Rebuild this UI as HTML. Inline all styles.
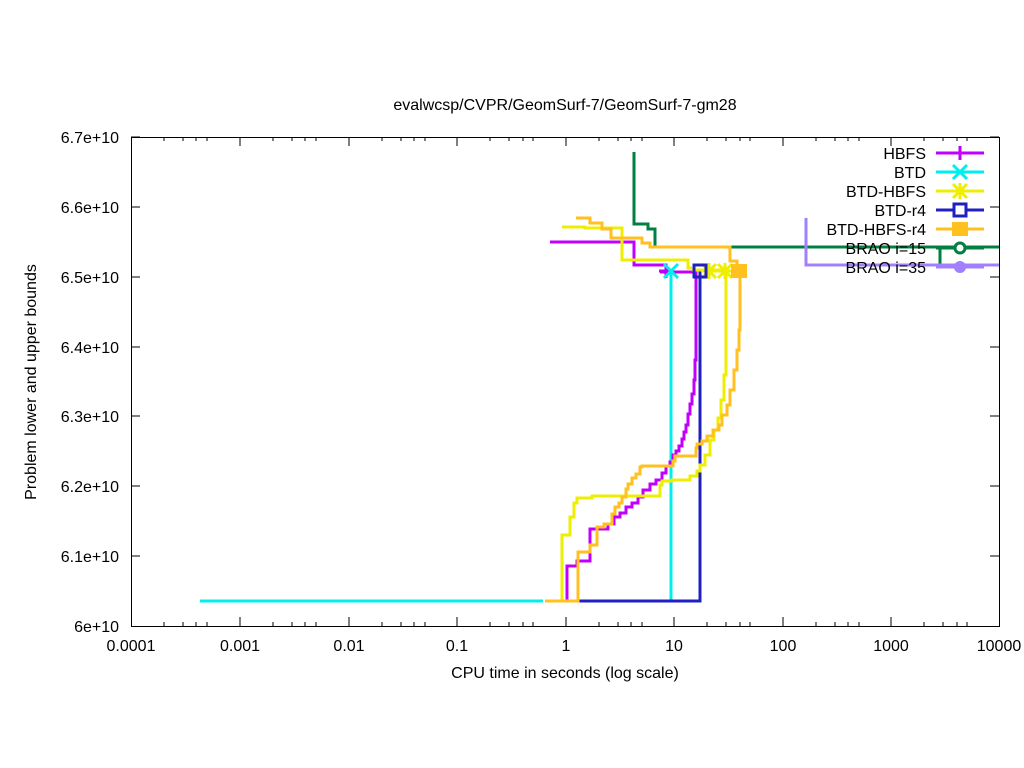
<!DOCTYPE html>
<html><head><style>body{margin:0;background:#fff}svg{display:block}text{font-family:"Liberation Sans",sans-serif;font-size:16px;fill:#000}</style></head><body>
<svg width="1024" height="768" xmlns="http://www.w3.org/2000/svg">
<rect width="1024" height="768" fill="#fff"/>
<g stroke="#000" stroke-width="1" fill="none">
<rect x="131.5" y="137.5" width="868" height="489"/>
<path d="M131 137h9M131 207h9M131 277h9M131 347h9M131 416h9M131 486h9M131 556h9M999 137h-9M999 207h-9M999 277h-9M999 347h-9M999 416h-9M999 486h-9M999 556h-9"/>
<path d="M240 626v-9M349 626v-9M457 626v-9M566 626v-9M674 626v-9M783 626v-9M891 626v-9M240 137v9M349 137v9M457 137v9M566 137v9M674 137v9M783 137v9M891 137v9"/>
<path d="M164 626v-4M183 626v-4M196 626v-4M207 626v-4M273 626v-4M292 626v-4M305 626v-4M316 626v-4M382 626v-4M401 626v-4M414 626v-4M425 626v-4M490 626v-4M509 626v-4M523 626v-4M533 626v-4M599 626v-4M618 626v-4M631 626v-4M642 626v-4M707 626v-4M726 626v-4M740 626v-4M750 626v-4M816 626v-4M835 626v-4M848 626v-4M859 626v-4M924 626v-4M943 626v-4M957 626v-4M967 626v-4M164 137v4M183 137v4M196 137v4M207 137v4M273 137v4M292 137v4M305 137v4M316 137v4M382 137v4M401 137v4M414 137v4M425 137v4M490 137v4M509 137v4M523 137v4M533 137v4M599 137v4M618 137v4M631 137v4M642 137v4M707 137v4M726 137v4M740 137v4M750 137v4M816 137v4M835 137v4M848 137v4M859 137v4M924 137v4M943 137v4M957 137v4M967 137v4"/>
</g>
<g text-anchor="end">
<text x="119" y="143">6.7e+10</text><text x="119" y="213">6.6e+10</text><text x="119" y="283">6.5e+10</text><text x="119" y="353">6.4e+10</text><text x="119" y="422">6.3e+10</text><text x="119" y="492">6.2e+10</text><text x="119" y="562">6.1e+10</text><text x="119" y="632">6e+10</text>
</g>
<g text-anchor="middle">
<text x="131" y="651">0.0001</text><text x="240" y="651">0.001</text><text x="349" y="651">0.01</text><text x="457" y="651">0.1</text><text x="566" y="651">1</text><text x="674" y="651">10</text><text x="783" y="651">100</text><text x="891" y="651">1000</text><text x="999" y="651">10000</text>
<text x="565" y="110">evalwcsp/CVPR/GeomSurf-7/GeomSurf-7-gm28</text>
<text x="565" y="678">CPU time in seconds (log scale)</text>
<text transform="translate(36,382) rotate(-90)">Problem lower and upper bounds</text>
</g>
<g fill="none" stroke-width="3">
<path stroke="#008040" d="M634 152V224H648V229H655V247H999M940 248V265"/>
<path stroke="#a080ff" d="M806 218V265H999"/>
<path stroke="#00eeee" d="M200 601H543M671 601V270"/>
<path stroke="#2020c0" d="M578 601H700V270"/>
<path stroke="#c000ff" d="M567 601V566H577V561H590V529H608V524H614V517H620V513H626V507H632V503H638V497H643V490H650V484H656V480H662V473H666V466H670V462H673V455H676V451H679V446H682V439H684V432H686V425H688V414H690V404H692V394H694V380H695V360H696V272H660M550 242H634V265H666V272H696"/>
<path stroke="#eeee00" d="M562 601V535H570V517H574V503H577V498H592V496H660V485H662V481H672V480H690V476H697V471H700V465H705V455H710V440H714V430H718V418H721V400H724V375H726V270H692M562 227H585V228H622V260H688V268H692"/>
<path stroke="#ffc020" d="M545 601H578V552H590V545H597V527H604V524H612V514H615V507H619V503H622V497H626V489H628V484H632V478H636V474H640V467H642V466H673V461H675V456H696V448H697V444H702V441H707V436H713V430H719V425H722V415H727V405H730V390H734V370H737V350H739V330H740V270H737V261H730V247H650V243H642V238H611V229H602V223H590V218H576"/>
</g>
<g stroke-width="3" fill="none">
<path stroke="#c000ff" d="M659 271h14M666 264v14"/>
<path stroke="#00eeee" d="M664 264l14 14M678 264l-14 14"/>
<path stroke="#eeee00" d="M702 264l14 14M716 264l-14 14M709 263v16M701 271h16M718 264l14 14M732 264l-14 14M725 263v16M717 271h16"/>
<rect stroke="#2020c0" x="694" y="265" width="12" height="12"/>
</g>
<rect x="731" y="264" width="16" height="14" fill="#ffc020"/>
<g text-anchor="end">
<text x="926" y="159">HBFS</text><text x="926" y="178">BTD</text><text x="926" y="197">BTD-HBFS</text><text x="926" y="216">BTD-r4</text><text x="926" y="235">BTD-HBFS-r4</text><text x="926" y="254">BRAO i=15</text><text x="926" y="273">BRAO i=35</text>
</g>
<g stroke-width="3" fill="none">
<path stroke="#c000ff" d="M936 153h48M960 146v14"/>
<path stroke="#00eeee" d="M936 172h48M953 165l14 14M967 165l-14 14"/>
<path stroke="#eeee00" d="M936 191h48M953 184l14 14M967 184l-14 14M960 183v16"/>
<path stroke="#2020c0" d="M936 210h48"/><rect x="954" y="204" width="12" height="12" stroke="#2020c0" fill="#fff"/>
<path stroke="#ffc020" d="M936 229h48"/><rect x="952" y="222" width="16" height="14" fill="#ffc020" stroke="none"/>
<path stroke="#008040" d="M936 248h48"/><circle cx="960" cy="248" r="5" stroke="#008040" fill="#fff"/>
<path stroke="#a080ff" d="M936 267h48"/><circle cx="960" cy="267" r="6" fill="#a080ff" stroke="none"/>
</g>
</svg>
</body></html>
